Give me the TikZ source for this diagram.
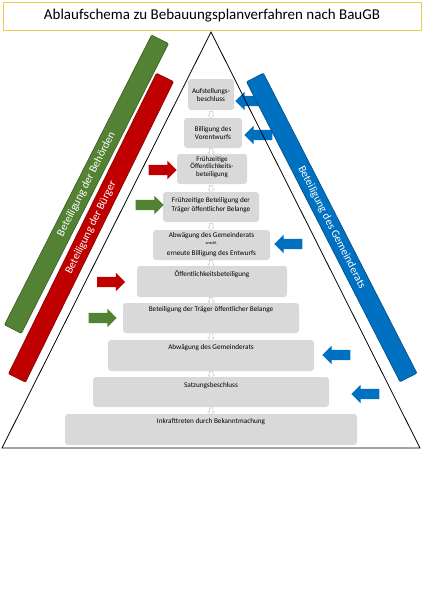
\documentclass[tikz,border=0pt]{standalone}
\usepackage{fontspec}
\setmainfont{Carlito}
\usetikzlibrary{shapes.arrows}
\definecolor{bgreen}{RGB}{84,130,53}
\definecolor{bred}{RGB}{192,0,0}
\definecolor{bblue}{RGB}{0,112,192}
\definecolor{boxgray}{RGB}{217,217,217}
\definecolor{titlegold}{RGB}{242,200,80}
\definecolor{smallarrow}{RGB}{200,200,200}
\tikzset{
  box/.style={rectangle, rounded corners=3pt, fill=boxgray, draw=none, inner sep=0pt},
  boxtext/.style={font=\fontsize{7.2}{8.5}\selectfont, text=black, align=center, inner sep=0pt},
  bar/.style={rectangle, inner sep=0pt, minimum height=19pt, text=white, font=\fontsize{11.2}{13}\selectfont, line width=0.6pt, rounded corners=1pt},
  blk/.style={single arrow, inner xsep=0pt, inner ysep=5pt, minimum height=28pt, minimum width=0pt, single arrow head extend=4pt, single arrow head indent=0pt, draw=none},
  dnarrow/.style={single arrow, inner xsep=0pt, inner ysep=1.5pt, minimum height=7pt, minimum width=0pt, single arrow head extend=1.5pt, draw=smallarrow, fill=white, line width=0.5pt, rotate=-90}
}
\begin{document}
\begin{tikzpicture}[x=1pt,y=-1pt]
\useasboundingbox (0,0) rectangle (424,600);
\fill[white] (0,0) rectangle (424,600);
% title
\node[draw=titlegold, line width=1pt, minimum width=418pt, minimum height=28pt, inner sep=0pt, font=\fontsize{15}{18}\selectfont] (title) at (212,16) {Ablaufschema zu Bebauungsplanverfahren nach BauGB};
% bars
\node[bar, fill=bgreen, draw=bgreen!70!black, minimum width=325pt, rotate=63.08] (gbar) at (86.5,184.2) {Beteiligung der Behörden};
\node[bar, fill=bred, draw=bred!70!black, minimum width=335pt, rotate=63.78] (rbar) at (91,227.7) {Beteiligung der Bürger};
% blue arrows (under the blue bar)
\node[blk, fill=bblue, rotate=180] (a1) at (252,101) {};
\node[blk, fill=bblue, rotate=180] (a2) at (261,135) {};
\node[bar, fill=bblue, draw=bblue!70!black, minimum width=337pt, rotate=-62.9] (bbar) at (331.7,227.5) {Beteiligung des Gemeinderats};
% triangle
\coordinate (apex) at (211,32);
\coordinate (bl) at (2,448);
\coordinate (br) at (420,448);
\draw[black, line width=0.8pt] (apex) -- (br) -- (bl) -- cycle;
% boxes
\node[box, minimum width=46pt, minimum height=31pt] (b1) at (211,94.5) {};
\node[box, minimum width=58pt, minimum height=30pt] (b2) at (213,133) {};
\node[box, minimum width=70pt, minimum height=30pt] (b3) at (212,169) {};
\node[box, minimum width=96pt, minimum height=30pt] (b4) at (211,207) {};
\node[box, minimum width=117pt, minimum height=30pt] (b5) at (211.5,245) {};
\node[box, minimum width=150pt, minimum height=31pt] (b6) at (212,281.5) {};
\node[box, minimum width=176pt, minimum height=30pt] (b7) at (211,318) {};
\node[box, minimum width=206pt, minimum height=31pt] (b8) at (211,355.5) {};
\node[box, minimum width=236pt, minimum height=30pt] (b9) at (211,392) {};
\node[box, minimum width=292pt, minimum height=31pt] (b10) at (211,429.5) {};
% box texts
\node[boxtext] (t1) at (211,95) {Aufstellungs-\\beschluss};
\node[boxtext] (t2) at (213,133) {Billigung des\\Vorentwurfs};
\node[boxtext, font=\fontsize{7}{7.4}\selectfont] (t3) at (212,167) {Frühzeitige\\Öffentlichkeits-\\beteiligung};
\node[boxtext] (t4) at (211,205) {Frühzeitige Beteiligung der\\Träger öffentlicher Belange};
\node[boxtext] (t5a) at (211.5,236) {Abwägung des Gemeinderats};
\node[boxtext, font=\fontsize{4.2}{5}\selectfont] (t5b) at (211.5,243.5) {anschl.};
\node[boxtext] (t5c) at (211.5,254) {erneute Billigung des Entwurfs};
\node[boxtext] (t6) at (212,274) {Öffentlichkeitsbeteiligung};
\node[boxtext] (t7) at (211,310) {Beteiligung der Träger öffentlicher Belange};
\node[boxtext] (t8) at (211,348) {Abwägung des Gemeinderats};
\node[boxtext] (t9) at (211,386) {Satzungsbeschluss};
\node[boxtext] (t10) at (211,422) {Inkrafttreten durch Bekanntmachung};
% small arrows between boxes
\node[dnarrow] (d1) at (211,114) {};
\node[dnarrow] (d2) at (211,151) {};
\node[dnarrow] (d3) at (211,188) {};
\node[dnarrow] (d4) at (211,226) {};
\node[dnarrow] (d5) at (211,263) {};
\node[dnarrow] (d6) at (211,300) {};
\node[dnarrow] (d7) at (211,336.5) {};
\node[dnarrow] (d8) at (211,374) {};
\node[dnarrow] (d9) at (211,410.5) {};
% other block arrows
\node[blk, fill=bblue, rotate=180] (a3) at (291,244) {};
\node[blk, fill=bblue, rotate=180] (a4) at (339,355) {};
\node[blk, fill=bblue, rotate=180] (a5) at (368,394) {};
\node[blk, fill=bred] (r1) at (160,170) {};
\node[blk, fill=bred] (r2) at (108.5,282) {};
\node[blk, fill=bgreen] (g1) at (147,205) {};
\node[blk, fill=bgreen] (g2) at (100,318) {};
\end{tikzpicture}
\end{document}
